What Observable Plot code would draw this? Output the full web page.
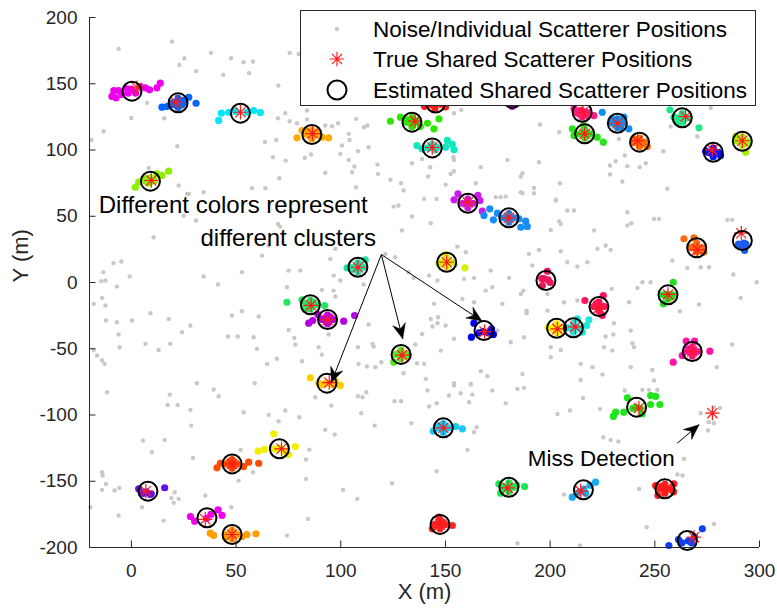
<!DOCTYPE html>
<html><head><meta charset="utf-8">
<script src="https://cdn.jsdelivr.net/npm/d3@7"></script>
<script src="https://cdn.jsdelivr.net/npm/@observablehq/plot@0.6"></script>
<style>
body{margin:0;background:#fff;font-family:"Liberation Sans",Arial,sans-serif;}
#wrap{position:relative;width:777px;height:609px;overflow:hidden;}
#legend{position:absolute;left:300px;top:10px;width:456px;height:96px;box-sizing:border-box;border:1px solid #262626;background:#fff;}
</style></head><body><div id="wrap"></div>
<script>
// ---------- data ----------
const xTicks = [0, 50, 100, 150, 200, 250, 300];
const yTicks = [-200, -150, -100, -50, 0, 50, 100, 150, 200];
const legendLabels = ["Noise/Individual Scatterer Positions", "True Shared Scatterer Positions", "Estimated Shared Scatterer Positions"];

const noise = [
[-6.1,176.3],[19.4,181.8],[25.3,169.3],[22.9,164.2],[31.0,159.5],[38.0,173.3],[47.6,169.3],[53.6,166.3],[58.1,166.8],[56.2,158.0],[43.9,156.7],[75.6,173.3],[79.9,172.5],[70.2,148.6],[7.5,135.6],[0.0,124.2],[15.7,124.0],[-13.2,114.2],[-19.1,107.6],[21.9,102.9],[8.3,86.5],[22.6,73.2],[26.6,66.9],[63.8,106.1],[69.2,107.6],[73.5,127.8],[70.0,124.0],[75.6,121.7],[79.1,120.2],[83.9,129.8],[83.9,123.0],[92.6,118.5],[95.8,118.0],[98.7,120.2],[103.8,112.2],[104.2,107.6],[107.4,123.5],[111.1,117.2],[112.7,118.5],[113.3,102.1],[100.6,103.4],[99.8,97.1],[82.8,94.1],[85.8,96.6],[73.7,92.0],[67.6,94.6],[92.6,82.7],[103.8,92.5],[106.5,87.5],[108.2,99.1],[105.4,83.2],[117.5,89.0],[117.8,82.0],[123.7,77.5],[128.8,75.0],[134.0,90.0],[138.8,93.3],[130.0,69.4],[70.7,78.7],[57.6,71.2],[64.0,71.2],[107.3,71.9],
[154.1,127.8],[157.6,130.3],[195.2,119.2],[204.3,113.4],[232.9,108.4],[235.6,95.8],[228.6,88.3],[231.3,91.5],[236.9,87.8],[242.8,87.0],[245.7,90.0],[228.6,81.5],[234.5,76.2],[256.0,70.7],[254.1,99.1],[276.7,131.8],[257.6,117.7],[270.3,110.2],[142.7,87.0],[141.7,80.0],[153.8,94.6],[154.1,92.5],[166.9,87.0],[152.5,82.0],[154.1,84.0],[179.6,92.5],[186.0,80.0],[186.8,82.5],[194.7,90.8],[204.7,74.9],[192.3,71.4],[192.3,67.4],[186.8,67.4],[150.1,73.9],[164.5,74.9],[176.4,64.4],[202.7,62.4],[155.7,63.1],
[27.4,66.9],[34.5,68.1],[125.3,57.3],[127.6,58.1],[134.0,49.8],[25.0,50.5],[30.9,46.8],[10.6,34.2],[70.0,44.2],[71.1,42.2],[62.4,20.3],[65.6,27.9],[75.1,9.0],[80.7,9.0],[95.0,17.8],[97.4,25.4],[96.6,5.2],[99.8,1.5],[110.9,-1.5],[-14.4,1.0],[-12.4,1.5],[-6.9,-3.1],[-0.8,4.5],[-4.8,15.8],[-8.5,14.6],[-13.4,7.8],[34.5,4.5],[41.4,-1.5],[52.8,7.8],[48.0,-24.9],[52.8,-21.7],[60.8,-25.7],[74.3,-3.6],[96.6,-6.1],[91.0,-5.6],[97.4,-10.6],[-14.0,-11.6],[-12.4,-17.4],[-18.0,-16.1],[-6.9,-30.0],[-12.1,-28.7],[-6.1,-39.3],[0.3,-28.7],[9.1,-23.2],[17.8,-27.5],[18.6,-46.3],[13.0,-50.9],[24.2,-37.5],[28.2,-32.5],[46.1,-40.8],[50.8,-40.8],[58.4,-41.3],[60.0,-50.1],[75.1,-35.8],[77.8,-41.8],[78.3,-46.8],[81.5,-59.4],[89.4,-48.8],[91.0,-54.4],[94.2,-39.3],[108.2,-48.8],[108.5,-61.4],[113.3,-31.7],[115.2,-46.3],[115.7,-48.3],[116.5,-63.9],[112.5,-63.4],[119.4,-60.2],[130.0,-68.5],[135.6,-46.8],[136.4,-60.9],[138.8,-38.8],[-18.0,-50.9],[-16.4,-55.1],[-14.0,-58.9],[-12.8,-61.4],[-5.6,-48.8],[6.7,-46.3],[31.3,-76.0],[64.8,-61.4],[69.5,-57.6],[121.3,21.6],[126.0,19.1],[132.4,7.8],[134.8,3.5],[129.2,39.2],
[139.8,63.1],[145.8,63.1],[143.0,44.7],[155.7,27.1],[159.7,22.9],[154.9,12.8],[142.2,5.2],[146.2,1.5],[144.6,-16.1],[143.0,-27.5],[146.5,-26.2],[146.2,-30.7],[143.8,-33.2],[150.1,-32.5],[154.1,-42.5],[147.8,-51.4],[139.8,-61.4],[154.1,-76.0],[162.1,-76.5],[166.9,-66.9],[170.0,-70.7],[164.5,-39.3],[174.8,-36.3],[181.2,-45.1],[187.5,-41.3],[186.8,-69.0],[188.8,-21.2],[188.8,-23.2],[186.0,-8.6],[191.5,12.8],[189.9,21.6],[194.7,24.6],[205.1,23.6],[208.2,15.3],[213.0,12.0],[217.8,15.3],[221.0,39.2],[222.6,25.4],[226.5,27.9],[228.9,24.6],[236.9,53.0],[238.8,44.7],[236.9,43.0],[249.6,48.0],[252.0,48.0],[258.4,16.6],[265.5,11.0],[271.9,11.5],[275.9,11.5],[284.7,47.3],[287.0,47.3],[287.5,6.0],[291.0,-11.6],[298.7,0.2],[287.0,-46.8],[279.6,-63.9],[271.1,-16.6],[262.0,-21.7],[244.1,0.2],[248.0,0.2],[241.7,-4.1],[237.7,-14.9],[229.4,-4.8],[213.0,-13.6],[206.6,-14.9],[198.7,-8.6],[198.7,-21.2],[200.3,-48.8],[205.1,-50.9],[200.3,-56.4],[214.6,-61.4],[220.2,-63.9],[225.0,-69.5],[214.6,-73.5],[226.5,-40.8],[230.2,-39.3],[230.5,-30.7],[225.8,-48.8],[229.7,-51.4],[238.5,-36.3],[239.3,-45.8],[240.1,-48.8],[248.8,-66.0],[238.5,-63.9],[249.6,-74.0],[140.6,-72.7],[174.0,64.4],[178.8,64.9],[186.0,68.1],[202.7,61.9],[204.3,46.3],[205.1,44.2],[200.3,39.7],[208.2,54.3],[211.4,54.3],[171.6,9.0],[163.7,3.5],[172.4,-3.6],[158.1,-12.4],[180.4,3.5],[169.2,-6.1],[163.7,-14.9],[158.9,2.7],[177.2,-16.1],[187.2,-6.1],
[-11.6,-82.8],[18.3,-84.6],[17.3,-92.4],[22.1,-92.4],[28.2,-96.1],[28.6,-108.0],[39.3,-80.8],[41.7,-85.8],[58.9,-76.0],[53.6,-97.9],[65.6,-99.9],[70.3,-104.7],[73.5,-96.6],[80.2,-101.7],[87.8,-86.6],[95.5,-92.9],[92.6,-111.2],[97.1,-114.8],[108.2,-85.8],[110.4,-86.6],[112.2,-82.8],[109.8,-98.7],[116.2,-108.0],[125.7,-89.6],[128.8,-89.6],[133.7,-106.2],[5.5,-119.3],[15.9,-118.8],[9.8,-128.1],[29.4,-132.4],[52.2,-126.3],[58.1,-143.2],[51.2,-149.5],[83.4,-133.6],[85.0,-126.1],[83.4,-148.2],[-14.0,-143.2],[-13.7,-145.7],[-12.1,-152.0],[-14.0,-156.5],[-8.0,-157.0],[-5.8,-155.0],[20.7,-158.3],[22.6,-163.3],[19.1,-162.6],[20.2,-166.3],[35.3,-160.8],[5.1,-169.6],[-6.1,-175.9],[15.4,-179.7],[47.7,-169.6],[84.3,-178.4],[74.3,-191.0],[124.5,-151.5],[101.1,-156.5],[107.9,-163.3],[-19.6,-169.6],
[141.4,-81.5],[142.2,-93.6],[145.8,-91.1],[151.7,-85.3],[154.1,-77.8],[157.3,-83.6],[162.1,-77.0],[162.9,-84.6],[161.3,-90.4],[172.4,-81.5],[178.8,-91.1],[184.4,-80.3],[187.5,-79.5],[203.5,-99.2],[209.5,-96.6],[215.7,-87.1],[223.8,-95.4],[235.6,-81.5],[244.1,-81.0],[247.2,-81.0],[251.2,-81.0],[163.7,-113.0],[164.9,-109.2],[160.5,-126.3],[145.8,-142.4],[225.4,-116.8],[228.9,-118.8],[232.6,-120.0],[264.0,-133.1],[263.2,-145.7],[260.8,-144.9],[242.5,-155.8],[206.6,-160.0],[184.4,-196.8],[214.3,-198.5],[246.1,-184.7],[278.3,-182.2],
[271.9,-98.6],[275.8,-105.4],[278.2,-106.2],[278.2,-94.1],[281.1,-94.6],[275.4,-111.7]
];

const clusterColor = ["#ee00ee","#0064ff","#00e8f8","#ffa800","#8cf000","#2ee600","#10e8c0","#ff1a1a","#ff1a8c","#0d90f0","#26e61a","#ff7000","#22e68a","#0014ff","#a6f000","#1de6a5","#22e660","#b400e0","#5ae61e","#ffcc00","#cc1aee","#168cf5","#d2f000","#f0145a","#ff1466","#ffee00","#20e6dc","#0000f0","#ff6a10","#1a5cf0","#20e020","#ff14a5","#f0f000","#ff4a00","#6010f0","#f000f0","#ff9c00","#18c8f5","#1ee650","#1aaaf0","#ff1e1e","#ff2626","#1ee61a","#1040f0","#e61ad2"];
const estX = [0.3,22.3,52.1,86.2,9.1,134.0,143.7,145.3,215.3,232.1,216.5,242.7,263.1,277.9,291.8,108.2,85.5,93.7,128.8,93.4,160.7,180.3,150.6,198.0,223.3,203.1,211.1,168.4,270.0,291.8,256.3,267.9,70.7,48.1,7.9,36.1,48.1,149.0,180.3,215.9,254.8,147.4,241.3,265.5,182.0];
const estY = [144.4,135.6,127.8,111.7,76.5,121.0,101.6,135.5,128.5,120.2,112.2,105.9,124.3,98.3,106.6,11.5,-16.8,-27.9,-54.3,-76.0,59.8,48.8,15.3,1.5,-18.1,-34.5,-34.2,-36.2,26.2,31.7,-9.3,-52.1,-125.5,-136.9,-157.5,-177.6,-190.2,-109.7,-154.5,-156.5,-155.7,-182.6,-94.1,-194.7,139.0];
const trueX = [2.7,21.3,52.1,86.5,9.5,135.5,143.7,145.3,215.5,232.1,216.5,241.7,264.7,277.4,291.8,108.2,85.8,93.7,129.3,94.5,160.7,180.3,150.6,null,223.3,203.5,212.0,168.7,270.3,291.3,256.3,267.9,71.7,48.1,6.9,35.3,48.1,149.0,179.8,214.6,255.5,147.4,242.4,268.7,182.0];
const trueY = [147.0,136.1,128.5,112.4,77.0,121.8,101.9,135.5,128.5,120.2,112.2,106.9,125.3,100.1,107.0,11.5,-17.2,-28.2,-54.8,-75.5,60.5,48.8,15.3,null,-19.0,-35.0,-33.5,-37.1,24.8,37.2,-9.0,-52.1,-125.5,-136.9,-157.5,-178.7,-190.2,-109.7,-155.0,-157.4,-155.5,-182.6,-94.7,-192.2,139.0];
const missX = [277.5], missY = [-98.6];

const clusterMembers = [
 [[-8.4,144.9],[-6.1,144.9],[-9.3,140.4],[-7.3,139.4],[-4.5,141.9],[-2.1,146.2],[4.3,147.9],[6.7,146.9],[8.7,145.4],[12.2,146.9],[13.8,150.4],[0,146],[2,143],[-1.5,143]],
 [[14.6,132.3],[17.0,132.8],[19.4,134.3],[25.0,137.4],[27.4,139.8],[30.9,135.3],[22,137],[21,134],[24,134],[19.8,135.6],[24.8,135.6],[22.3,139],[22.3,132.2]],
 [[41.7,122.3],[43.0,127.8],[46.5,128.5],[49.7,129.3],[55.2,128.5],[58.4,129.8],[61.6,128.3]],
 [[79.1,109.2],[81.5,114.7],[83.9,114.2],[89.4,113.4],[91.0,109.7],[94.2,109.2],[86,110],[87,113],[83.7,111.7],[88.7,111.7],[86.2,115],[86.2,108.5]],
 [[1.9,71.9],[3.5,75.7],[5.9,78.3],[12.2,82.0],[14.6,80.8],[17.8,84.0],[9,76],[8,75],[7,76.5],[11,77],[9,79]],
 [[123.7,121.7],[128.5,124.8],[131.6,122.8],[138.0,117.7],[141.4,120.2],[144.5,116.0],[146.9,123.5],[134,120],[136,122],[131.5,121],[136.5,121],[134,124.5],[134,117.5]],
 [[136.4,103.4],[138.8,100.9],[150.9,107.2],[153.3,104.2],[154.1,100.2],[150.1,102.1],[143,102],[145,100],[141.5,101.6],[146,102],[143.7,104.5]],
 [[142,134],[148,135],[145,131.5],[140,133],[150,132.5]],
 [[211.4,131.1],[213.0,127.8],[217.8,128.5],[220.9,126.0],[215,130],[212.8,128.5],[217.8,126],[215.3,125]],
 [[224.9,128.5],[229.7,123.5],[233.7,117.2],[237.6,116.0],[235.2,124.8],[232,121],[229.6,120.2],[234.6,120.2],[232.1,123.5],[232.1,117]],
 [[210.6,116.0],[211.4,110.9],[222.5,109.7],[225.4,105.9],[216.1,118.5],[217,111],[214,112.2],[219,112.2],[216.5,115.5],[216.5,109]],
 [[240.0,108.4],[246.4,102.6],[244,105],[240,106],[240.2,105.9],[245.2,105.9],[242.7,109],[242.7,102.5]],
 [[257.2,130.3],[259.1,124.8],[271.1,116.8],[260.7,121.0],[263,123],[260.6,124.3],[265.6,124.3],[263.1,127.5],[263.1,121]],
 [[274.3,99.1],[281.4,95.8],[278,97],[276,98],[275.4,98.3],[280.4,98.3],[277.9,101.5],[277.9,95]],
 [[288.6,110.2],[293.4,98.3],[291,107],[294,105],[289.3,106.6],[294.3,106.6],[291.8,110],[291.8,103.5]],
 [[103.0,11.1],[111.7,17.1],[106,10],[110,12],[105.7,11.5],[110.7,11.5],[108.2,14.8],[108.2,8.2]],
 [[74.3,-14.9],[81.5,-13.1],[92.3,-17.4],[83.1,-19.9],[85,-17],[87,-15],[83,-16.8],[88,-16.8],[85.5,-13.5],[85.5,-20]],
 [[84.7,-30.7],[86.6,-28.7],[89.1,-24.2],[101.4,-29.2],[106.6,-24.9],[93,-28],[95,-26],[91.2,-27.9],[96.2,-27.9],[93.7,-24.6],[93.7,-31.2]],
 [[125.3,-60.1],[132.4,-55.1],[128,-55],[126.3,-54.3],[131.3,-54.3],[128.8,-51],[128.8,-57.6]],
 [[85.5,-71.9],[89.4,-76.0],[97.4,-74.5],[99.8,-77.7],[93,-76],[91,-77],[96,-77]],
 [[154.1,62.4],[156.0,66.9],[165.5,65.7],[166.5,61.9],[167.6,53.8],[160,60],[158.2,59.8],[163.2,59.8],[160.7,63],[160.7,56.5]],
 [[171.2,55.6],[168.4,50.6],[172.9,47.3],[174.8,52.3],[185.1,48.1],[188.3,46.3],[186.0,41.7],[189.1,42.3],[180,49],[177.8,48.8],[182.8,48.8],[180.3,52],[180.3,45.5]],
 [[146.9,14.1],[150.1,21.1],[159.3,11.1],[150,15],[148.1,15.3],[153.1,15.3],[150.6,18.6],[150.6,12]],
 [[198.7,8.5],[196.3,-2.3],[199,2],[197,3],[196,3],[200,0]],
 [[216.6,-13.6],[225.4,-9.8],[224.9,-24.9],[223,-18],[222,-16],[220.8,-18.1],[225.8,-18.1],[223.3,-14.8],[223.3,-21.4]],
 [[201,-35],[204,-37],[203,-33],[199,-34],[200.6,-34.5],[205.6,-34.5],[203.1,-31.2],[203.1,-37.8]],
 [[213.0,-27.4],[218.5,-28.2],[217.4,-32.5],[215.4,-37.5],[211,-35],[208.6,-34.2],[213.6,-34.2],[211.1,-30.9],[211.1,-37.5]],
 [[163.6,-30.7],[162.4,-41.3],[172.9,-39.2],[172,-35],[168,-37],[166,-38],[170.5,-38]],
 [[263.9,33.0],[268.7,33.7],[273.4,22.9],[270,25],[268,27],[267.5,26.2],[272.5,26.2],[270,29.5],[270,23]],
 [[292.6,29.7],[292.9,24.2],[291,28],[290,29],[293.5,29]],
 [[258.8,0.2],[254.1,-16.1],[256,-9],[258,-11],[254,-9.3],[258.5,-9.3],[256.3,-12.5]],
 [[265.0,-44.3],[269.0,-44.3],[276.3,-51.8],[258.8,-60.1],[263.1,-55.1],[268,-52],[266,-50],[265.4,-52.1],[270.4,-52.1],[267.9,-48.8],[267.9,-55.4]],
 [[60.5,-127.3],[63.5,-126.0],[68.0,-114.2],[75.1,-129.8],[78.3,-123.8],[71,-125],[73,-127],[68.5,-125.5],[73,-127.5]],
 [[40.9,-139.9],[42.5,-136.4],[56.0,-135.6],[60.8,-136.4],[53.6,-138.9],[48,-137],[47,-135],[45.6,-136.9],[50.6,-136.9],[48.1,-133.6],[48.1,-140.2]],
 [[3.5,-155.7],[15.9,-154.9],[7,-158],[9,-160],[5,-159],[6,-159],[9.5,-159.5]],
 [[28.2,-176.6],[30.2,-180.1],[41.4,-171.6],[43.3,-175.8],[36,-178],[38,-175]],
 [[37.7,-189.2],[39.3,-190.9],[52.8,-191.7],[55.2,-190.2],[59.5,-189.7],[48,-190],[45,-192],[45.6,-190.2],[50.6,-190.2],[48.1,-186.9],[48.1,-193.5]],
 [[144.2,-112.2],[154.9,-108.7],[158.1,-110.4],[149,-110],[147,-108],[146.5,-109.7],[151.5,-109.7],[149,-106.4],[149,-113]],
 [[175.5,-151.9],[176.4,-159.0],[187.8,-154.0],[180,-155],[184,-153],[177.8,-154.5],[182.8,-154.5],[180.3,-151.2],[180.3,-157.8]],
 [[210.6,-162.0],[221.7,-150.7],[219,-153],[214,-158],[216,-156],[214,-158.5],[217,-159]],
 [[250.4,-153.2],[259.1,-151.9],[251.5,-160.8],[259,-158],[255,-156],[253,-154],[252.3,-155.7],[257.3,-155.7],[254.8,-152.4],[254.8,-159]],
 [[143.7,-185.9],[153.3,-183.4],[146.9,-177.1],[147,-183],[149,-181],[144.9,-182.6],[149.9,-182.6],[147.4,-179.3],[147.4,-185.9]],
 [[230.2,-101.1],[231.3,-97.9],[235.2,-97.9],[236.9,-87.0],[248.0,-85.3],[250.4,-86.0],[252.4,-92.1],[248.0,-92.1],[244.0,-99.1],[241,-94],[239.5,-95],[243,-95]],
 [[256.7,-198.5],[272.7,-185.9],[261.3,-194],[266,-195],[269,-192],[263,-196.5],[267.5,-196.5]],
 [[181.9,132.8],[180,138],[184,140]]
];

// annotations
const noteText = ["Different colors represent", "different clusters"];
const noteX = [-15.6, 33.0], noteY = [58.3, 33.2];
const missText = ["Miss Detection"], missTextX = [224.4], missTextY = [-133.1];
const arrowX1 = [119.4, 119.4, 119.4, 260.7], arrowY1 = [21.1, 21.1, 21.1, -121.3];
const arrowX2 = [95.5, 129.6, 167.4, 271.1], arrowY2 = [-75.5, -42.5, -29.0, -107.4];

// ---------- layout ----------
const W = 777, H = 609, mL = 89, mR = 18, mT = 17, mB = 62;
const xDomain = [-20, 300], yDomain = [-200, 200];
const sx = Plot.scale({x: {domain: xDomain, range: [mL, W - mR]}});
const sy = Plot.scale({y: {domain: yDomain, range: [H - mB, mT]}});
const tickLen = 6.5;
const xTickEnd = sy.invert(sy.apply(yDomain[0]) - tickLen);  // inward tick end (data units)
const yTickEnd = sx.invert(sx.apply(xDomain[0]) + tickLen);

const noiseData = noise.map(([x, y]) => ({x, y}));
const memberData = clusterMembers.flatMap((pts, i) => pts.map(([x, y]) => ({x, y, color: clusterColor[i]})));
const estData = estX.map((x, i) => ({x, y: estY[i]}));
const trueData = trueX.map((x, i) => ({x, y: trueY[i]})).filter(d => d.x != null)
  .concat(missX.map((x, i) => ({x, y: missY[i]})));
const arrowData = arrowX1.map((x1, i) => ({x1, y1: arrowY1[i], x2: arrowX2[i], y2: arrowY2[i]}));

// arrowheads computed in pixel space, converted back through the scales
const headPts = [];
arrowData.forEach((a, i) => {
  const px1 = sx.apply(a.x1), py1 = sy.apply(a.y1), px2 = sx.apply(a.x2), py2 = sy.apply(a.y2);
  const len = Math.hypot(px2 - px1, py2 - py1);
  const ux = (px2 - px1) / len, uy = (py2 - py1) / len, nx = -uy, ny = ux;
  const L = 15, w = 6.5, notch = 10;
  const pts = [[px2, py2], [px2 - L*ux + w*nx, py2 - L*uy + w*ny], [px2 - notch*ux, py2 - notch*uy], [px2 - L*ux - w*nx, py2 - L*uy - w*ny], [px2, py2]];
  pts.forEach(([px, py]) => headPts.push({x: sx.invert(px), y: sy.invert(py), id: i}));
});

const asterisk = {
  draw(ctx, size) {
    const r = Math.sqrt(size / Math.PI), d = r * Math.SQRT1_2;
    ctx.moveTo(-r, 0); ctx.lineTo(r, 0);
    ctx.moveTo(0, -r); ctx.lineTo(0, r);
    ctx.moveTo(-d, -d); ctx.lineTo(d, d);
    ctx.moveTo(-d, d); ctx.lineTo(d, -d);
  }
};

const fontFamily = "'Liberation Sans', Arial, Helvetica, sans-serif";
const axisColor = "#262626";

const chart = Plot.plot({
  width: W, height: H,
  marginLeft: mL, marginRight: mR, marginTop: mT, marginBottom: mB,
  x: {domain: xDomain},
  y: {domain: yDomain},
  color: {type: "identity"},
  style: {fontFamily, color: axisColor, background: "white", overflow: "visible"},
  marks: [
    Plot.dot(noiseData, {x: "x", y: "y", r: 2.2, fill: "#c8c8c8"}),
    Plot.dot(memberData, {x: "x", y: "y", r: 3.6, fill: "color"}),
    Plot.dot(trueData, {x: "x", y: "y", symbol: asterisk, r: 7.2, stroke: "#ff1a1a", fill: "none", strokeWidth: 1.2}),
    Plot.dot(estData, {x: "x", y: "y", r: 9.5, stroke: "black", strokeWidth: 2, fill: "none"}),
    Plot.link(arrowData, {x1: "x1", y1: "y1", x2: "x2", y2: "y2", stroke: "black", strokeWidth: 1}),
    Plot.line(headPts, {x: "x", y: "y", z: "id", fill: "black", stroke: "black", strokeWidth: 0.5, curve: "linear"}),
    Plot.text(noteText, {x: (d, i) => noteX[i], y: (d, i) => noteY[i], text: d => d, textAnchor: "start", fontSize: 24, fill: "black"}),
    Plot.text(missText, {x: (d, i) => missTextX[i], y: (d, i) => missTextY[i], text: d => d, textAnchor: "middle", fontSize: 22.4, fill: "black"}),
    Plot.ruleY([yDomain[0]], {stroke: axisColor, strokeWidth: 1}),
    Plot.ruleX([xDomain[0]], {stroke: axisColor, strokeWidth: 1}),
    Plot.ruleX(xTicks, {x: d => d, y1: yDomain[0], y2: xTickEnd, stroke: axisColor, strokeWidth: 1}),
    Plot.ruleY(yTicks, {y: d => d, x1: xDomain[0], x2: yTickEnd, stroke: axisColor, strokeWidth: 1}),
    Plot.axisX({ticks: xTicks, tickSize: 0, tickPadding: 16, fontSize: 19, tickFormat: d => String(d), label: null}),
    Plot.axisY({ticks: yTicks, tickSize: 0, tickPadding: 12, fontSize: 19, tickFormat: d => String(d), label: null}),
    Plot.text(["X (m)"], {frameAnchor: "bottom", dy: 51, text: d => d, fontSize: 22, fill: axisColor}),
    Plot.text(["Y (m)"], {frameAnchor: "left", dx: -69, rotate: -90, text: d => d, fontSize: 22, fill: axisColor})
  ]
});

const wrap = document.getElementById("wrap");
wrap.appendChild(chart);

// ---------- legend (overlay) ----------
const legend = d3.select(wrap).append("div").attr("id", "legend");
const lsvg = legend.append("svg").attr("width", 454).attr("height", 94)
  .style("position", "absolute").style("left", "0px").style("top", "0px")
  .style("font-family", fontFamily);
const rowY = [18, 48, 79];
lsvg.append("circle").attr("cx", 36).attr("cy", rowY[0]).attr("r", 2.2).attr("fill", "#c8c8c8");
const ar = 7.2, ad = ar * Math.SQRT1_2;
lsvg.append("path").attr("transform", `translate(36,${rowY[1]})`)
  .attr("d", `M${-ar},0L${ar},0M0,${-ar}L0,${ar}M${-ad},${-ad}L${ad},${ad}M${-ad},${ad}L${ad},${-ad}`)
  .attr("stroke", "#ff1a1a").attr("stroke-width", 1.2).attr("fill", "none");
lsvg.append("circle").attr("cx", 36).attr("cy", rowY[2]).attr("r", 9.5).attr("fill", "none").attr("stroke", "black").attr("stroke-width", 2);
legendLabels.forEach((t, i) => {
  lsvg.append("text").attr("x", 72).attr("y", rowY[i]).attr("dy", "0.36em")
    .attr("font-size", 22.5).attr("fill", "black").text(t);
});
</script></body></html>
